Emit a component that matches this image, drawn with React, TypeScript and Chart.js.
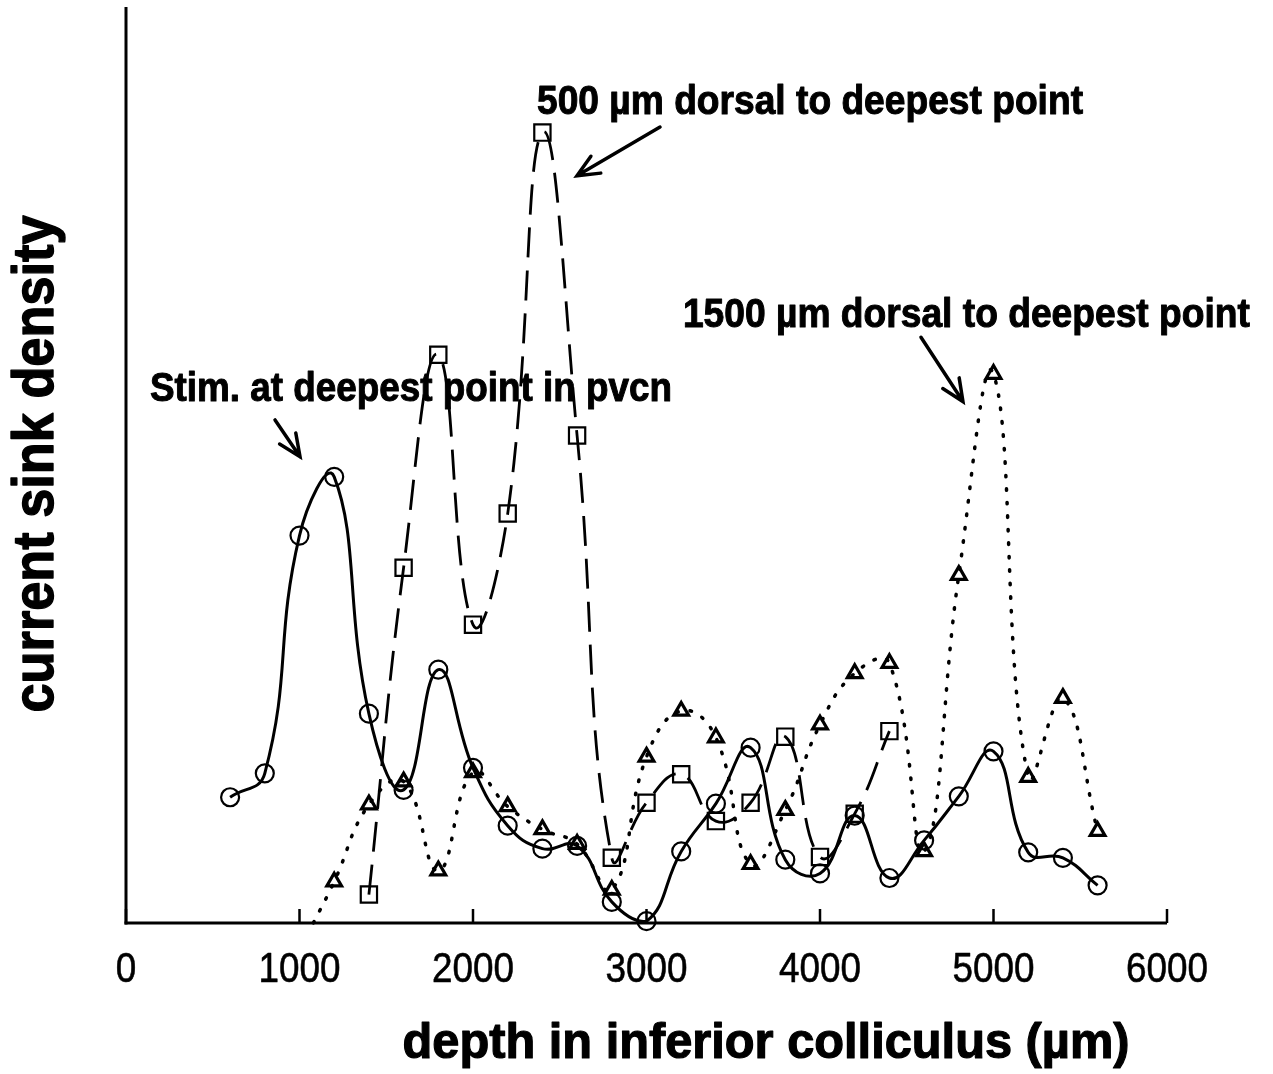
import React, { useEffect, useRef } from "react";
import { Chart, registerables } from "chart.js";

Chart.register(...registerables);

// ---- data (depth in µm, current sink density in arbitrary units 0-100) ----
const circleDepth = [600, 800, 1000, 1200, 1400, 1600, 1800, 2000, 2200, 2400, 2600, 2800, 3000, 3200, 3400, 3600, 3800, 4000, 4200, 4400, 4600, 4800, 5000, 5200, 5400, 5600];
const circleSink = [13.7, 16.3, 42.2, 48.6, 22.8, 14.5, 27.6, 16.9, 10.6, 8.1, 8.4, 2.3, 0.2, 7.8, 13.0, 19.1, 6.9, 5.4, 11.7, 4.9, 9.0, 13.8, 18.7, 7.7, 7.1, 4.1];

const squareDepth = [1400, 1600, 1800, 2000, 2200, 2400, 2600, 2800, 3000, 3200, 3400, 3600, 3800, 4000, 4200, 4400];
const squareSink = [3.1, 38.7, 61.9, 32.5, 44.6, 86.1, 53.1, 7.1, 13.1, 16.2, 11.1, 13.1, 20.3, 7.2, 11.9, 20.9];

const triangleDepth = [1080, 1200, 1400, 1600, 1800, 2000, 2200, 2400, 2600, 2800, 3000, 3200, 3400, 3600, 3800, 4000, 4200, 4400, 4600, 4800, 5000, 5200, 5400, 5600];
const triangleSink = [0, 4.5, 12.9, 15.4, 5.7, 16.4, 12.7, 10.2, 8.6, 3.6, 18.1, 23.1, 20.2, 6.4, 12.3, 21.6, 27.2, 28.3, 7.8, 37.9, 59.8, 15.9, 24.5, 10.0];
const triangleMarked = [false, true, true, true, true, true, true, true, true, true, true, true, true, true, true, true, true, true, true, true, true, true, true, true];

const xTicks = [0, 1000, 2000, 3000, 4000, 5000, 6000];
const xTitle = "depth in inferior colliculus (µm)";
const yTitle = "current sink density";

const notes = [
  { text: "500 µm dorsal to deepest point", x: 2369, y: 88.1, w: 546 },
  { text: "1500 µm dorsal to deepest point", x: 3210, y: 64.9, w: 567 },
  { text: "Stim. at deepest point in pvcn", x: 138, y: 56.9, w: 522 },
];
const arrows = [
  { x1: 3078, y1: 86.7, x2: 2599, y2: 81.4 },
  { x1: 4582, y1: 63.8, x2: 4824, y2: 56.8 },
  { x1: 859, y1: 54.8, x2: 1003, y2: 50.8 },
];

const W = 1273;
const H = 1074;
const SANS = '"Liberation Sans", Arial, Helvetica, sans-serif';

function fitText(ctx: CanvasRenderingContext2D, text: string, x: number, y: number, font: string, scale: number, align: CanvasTextAlign, stroke = 0) {
  ctx.save();
  ctx.font = font;
  ctx.translate(x, y);
  ctx.scale(scale, 1);
  ctx.textAlign = align;
  ctx.textBaseline = "alphabetic";
  ctx.fillStyle = "#000";
  ctx.fillText(text, 0, 0);
  if (stroke > 0) {
    ctx.strokeStyle = "#000";
    ctx.lineWidth = stroke;
    ctx.lineJoin = "round";
    ctx.strokeText(text, 0, 0);
  }
  ctx.restore();
}

const decorPlugin = {
  id: "decor",
  beforeDatasetsDraw(chart: any) {
    const ctx: CanvasRenderingContext2D = chart.ctx;
    const { left, right, top, bottom } = chart.chartArea;
    const xs = chart.scales.x;
    ctx.save();
    ctx.strokeStyle = "#000";
    ctx.lineWidth = 3;
    ctx.lineCap = "butt";
    ctx.beginPath();
    ctx.moveTo(left, top + 2);
    ctx.lineTo(left, bottom + 1.5);
    ctx.stroke();
    ctx.beginPath();
    ctx.moveTo(left - 1.5, bottom);
    ctx.lineTo(right, bottom);
    ctx.stroke();
    ctx.lineWidth = 2.5;
    xTicks.forEach((t) => {
      const px = xs.getPixelForValue(t);
      ctx.beginPath();
      ctx.moveTo(px, bottom);
      ctx.lineTo(px, bottom - 14);
      ctx.stroke();
    });
    ctx.restore();
  },
  afterDraw(chart: any) {
    const ctx: CanvasRenderingContext2D = chart.ctx;
    const { bottom } = chart.chartArea;
    const xs = chart.scales.x;
    const ys = chart.scales.y;

    const tickFont = `43px ${SANS}`;
    ctx.font = tickFont;
    const tickScale = 82 / ctx.measureText("1000").width;
    xTicks.forEach((t) => {
      fitText(ctx, String(t), xs.getPixelForValue(t), bottom + 59, tickFont, tickScale, "center", 0.6);
    });

    const xtFont = `bold 50px ${SANS}`;
    ctx.font = xtFont;
    const xtScale = 727 / ctx.measureText(xTitle).width;
    fitText(ctx, xTitle, 766, 1058, xtFont, xtScale, "center", 1.2);

    const ytFont = `bold 57px ${SANS}`;
    ctx.font = ytFont;
    const ytScale = 497 / ctx.measureText(yTitle).width;
    ctx.save();
    ctx.translate(53, 464);
    ctx.rotate(-Math.PI / 2);
    fitText(ctx, yTitle, 0, 0, ytFont, ytScale, "center", 1.4);
    ctx.restore();

    const nFont = `bold 40px ${SANS}`;
    notes.forEach((n) => {
      ctx.font = nFont;
      const s = n.w / ctx.measureText(n.text).width;
      fitText(ctx, n.text, xs.getPixelForValue(n.x), ys.getPixelForValue(n.y), nFont, s, "left", 1);
    });

    ctx.save();
    ctx.strokeStyle = "#000";
    ctx.lineWidth = 3.5;
    ctx.lineCap = "round";
    arrows.forEach((a) => {
      const x1 = xs.getPixelForValue(a.x1);
      const y1 = ys.getPixelForValue(a.y1);
      const x2 = xs.getPixelForValue(a.x2);
      const y2 = ys.getPixelForValue(a.y2);
      const ang = Math.atan2(y2 - y1, x2 - x1);
      const L = 24;
      const spread = 0.42;
      ctx.beginPath();
      ctx.moveTo(x1, y1);
      ctx.lineTo(x2, y2);
      ctx.moveTo(x2 - L * Math.cos(ang - spread), y2 - L * Math.sin(ang - spread));
      ctx.lineTo(x2, y2);
      ctx.lineTo(x2 - L * Math.cos(ang + spread), y2 - L * Math.sin(ang + spread));
      ctx.stroke();
    });
    ctx.restore();
  },
};

export default function App() {
  const ref = useRef<HTMLCanvasElement>(null);

  useEffect(() => {
    if (!ref.current) return;
    const toXY = (xs: number[], ys: number[]) => xs.map((x, i) => ({ x, y: ys[i] }));
    const chart = new Chart(ref.current, {
      type: "line",
      data: {
        datasets: [
          {
            label: "Stim. at deepest point in pvcn",
            data: toXY(circleDepth, circleSink),
            borderColor: "#000",
            borderWidth: 3,
            tension: 0.45,
            pointStyle: "circle",
            pointRadius: 9,
            pointBorderWidth: 2.2,
            pointBorderColor: "#000",
            pointBackgroundColor: "rgba(0,0,0,0)",
            clip: false as any,
          },
          {
            label: "500 µm dorsal to deepest point",
            data: toXY(squareDepth, squareSink),
            borderColor: "#000",
            borderWidth: 2.8,
            borderDash: [30, 13],
            tension: 0.45,
            pointStyle: "rect",
            pointRadius: 11.5,
            pointBorderWidth: 2.2,
            pointBorderColor: "#000",
            pointBackgroundColor: "rgba(0,0,0,0)",
            clip: false as any,
          },
          {
            label: "1500 µm dorsal to deepest point",
            data: toXY(triangleDepth, triangleSink),
            borderColor: "#000",
            borderWidth: 3.5,
            borderDash: [1.5, 12],
            borderCapStyle: "round",
            tension: 0.45,
            pointStyle: "triangle",
            pointRadius: triangleMarked.map((m) => (m ? 8.5 : 0)),
            pointBorderWidth: 3.2,
            pointBorderColor: "#000",
            pointBackgroundColor: "rgba(0,0,0,0)",
            clip: false as any,
          },
        ],
      },
      options: {
        responsive: false,
        animation: false,
        devicePixelRatio: 1,
        layout: { autoPadding: false, padding: { left: 126, right: W - 1167, top: 5, bottom: H - 923 } },
        plugins: { legend: { display: false }, tooltip: { enabled: false } },
        scales: {
          x: { type: "linear", min: 0, max: 6000, display: false },
          y: { type: "linear", min: 0, max: 100, display: false },
        },
        elements: { point: { hoverRadius: 9 } },
      },
      plugins: [decorPlugin],
    });
    return () => chart.destroy();
  }, []);

  return (
    <div style={{ position: "fixed", left: 0, top: 0, width: W, height: H, background: "#fff" }}>
      <canvas ref={ref} width={W} height={H} style={{ display: "block", width: W, height: H }} />
    </div>
  );
}
